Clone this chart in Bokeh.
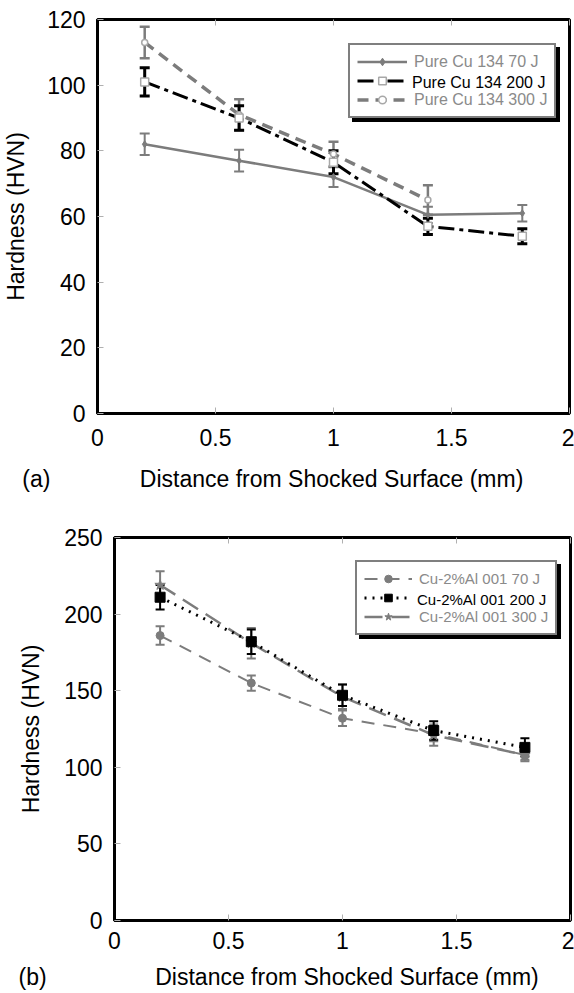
from bokeh.plotting import figure
from bokeh.models import (ColumnDataSource, Whisker, TeeHead, Legend, LegendItem,
                          FixedTicker, CustomJSTickFormatter, LinearAxis, Range1d)
from bokeh.embed import file_html
from bokeh.resources import INLINE

# ---------------- data ----------------
dist = [0.2, 0.6, 1.0, 1.4, 1.8]
dist_cu300 = [0.2, 0.6, 1.0, 1.4]

cu_70 = [82, 77, 72, 60.5, 61]
cu_70_err = [3.3, 3.3, 3.0, 2.5, 2.5]
cu_200 = [101, 90, 76.5, 57, 54]
cu_200_err = [4.3, 3.7, 3.5, 2.5, 2.3]
cu_300 = [113, 91, 79, 65]
cu_300_err = [4.8, 4.7, 3.8, 4.5]

al_70 = [186, 155, 132, 122, 108]
al_70_err = [6, 5, 5, 5, 3]
al_200 = [211, 182, 147, 124, 113]
al_200_err = [8, 8, 7, 6, 6]
al_300 = [219, 181, 146, 121, 108]
al_300_err = [9, 10, 8, 7, 4]

x_ticks = [0, 0.5, 1, 1.5, 2]
y_ticks_a = [0, 20, 40, 60, 80, 100, 120]
y_ticks_b = [0, 50, 100, 150, 200, 250]

labels_a = ["Pure Cu 134 70 J", "Pure Cu 134 200 J", "Pure Cu 134 300 J"]
labels_b = ["Cu-2%Al 001 70 J", "Cu-2%Al 001 200 J", "Cu-2%Al 001 300 J"]

X_TITLE = "Distance from Shocked Surface (mm)"
Y_TITLE = "Hardness (HVN)"
NB = "\u00a0"

FONT = "Liberation Sans"
GRAY = "#7c7c7c"
LIGHT = "#a8a8a8"
TEXT_GRAY = "#8a8a8a"


def make_fig(ymax, yticks, fw, fh, bl, bt, bb, br, xs, xls, yls, xlabel):
    p = figure(width=bl + fw + br, height=bt + fh + bb,
               min_border_left=bl, min_border_top=bt, min_border_bottom=bb,
               min_border_right=br,
               x_range=Range1d(0, 2), y_range=Range1d(0, ymax),
               output_backend="svg", toolbar_location=None)
    p.grid.visible = False
    p.outline_line_color = "black"
    p.outline_line_width = 3
    p.background_fill_color = "white"
    p.border_fill_color = "white"
    xa, ya = p.below[0], p.left[0]
    xa.ticker = FixedTicker(ticks=x_ticks)
    ya.ticker = FixedTicker(ticks=yticks)
    xa.formatter = CustomJSTickFormatter(code="return String(tick)")
    for ax in (xa, ya):
        ax.axis_line_color = "black"
        ax.axis_line_width = 3
        ax.major_tick_in = 6
        ax.major_tick_out = 0
        ax.major_tick_line_color = "#b0b0b0"
        ax.major_tick_line_width = 1
        ax.minor_tick_line_color = None
        ax.major_label_text_font = FONT
        ax.major_label_text_font_size = "23px"
        ax.major_label_text_color = "black"
        ax.axis_label_text_font = FONT
        ax.axis_label_text_font_size = "23px"
        ax.axis_label_text_font_style = "normal"
        ax.axis_label_text_color = "black"
    xa.major_label_standoff = xs
    ya.major_label_standoff = 12
    xa.axis_label_standoff = xls
    ya.axis_label_standoff = yls
    xa.axis_label = xlabel
    ya.axis_label = Y_TITLE
    top = LinearAxis(ticker=FixedTicker(ticks=x_ticks),
                     formatter=CustomJSTickFormatter(code="return ''"),
                     major_label_text_font_size="8px",
                     axis_line_color=None, major_tick_in=6, major_tick_out=0,
                     major_tick_line_color="#b0b0b0", minor_tick_line_color=None,
                     major_label_standoff=0)
    p.add_layout(top, "above")
    return p


def err_bars(p, xs, ys, es, color, width, head):
    src = ColumnDataSource(dict(x=xs, lo=[y - e for y, e in zip(ys, es)],
                                hi=[y + e for y, e in zip(ys, es)]))
    w = Whisker(base="x", lower="lo", upper="hi", source=src, dimension="height",
                line_color=color, line_width=width,
                upper_head=TeeHead(size=head, line_color=color, line_width=width),
                lower_head=TeeHead(size=head, line_color=color, line_width=width))
    p.add_layout(w)


def add_legend(p, items, loc, font, glyph_w, label_w):
    """Three legends of identical structure: shadow, grey-labelled box, black middle label."""
    common = dict(label_text_font=FONT, label_text_font_size=font,
                  label_height=19, glyph_height=19, glyph_width=glyph_w,
                  label_standoff=7, label_width=label_w, spacing=0, margin=0,
                  padding=7, border_line_width=2)
    x0, y0 = loc
    (l1, r1), (l2, r2), (l3, r3) = items
    # invisible stand-in renderer (no data) for legend rows that must not draw a glyph
    blank = [p.line(x="x", y="y", source=ColumnDataSource(dict(x=[], y=[])),
                    line_alpha=0)]
    # shadow
    p.add_layout(Legend(items=[LegendItem(label=" ", renderers=blank) for _ in items],
                        location=(x0 + 4, y0 - 4),
                        border_line_color="black", background_fill_color="black",
                        background_fill_alpha=1, label_text_color="black", **common),
                 "center")
    # main box, grey labels (middle label drawn by the overlay)
    p.add_layout(Legend(items=[LegendItem(label=l1, renderers=r1),
                               LegendItem(label=" ", renderers=r2),
                               LegendItem(label=l3, renderers=r3)],
                        location=(x0, y0),
                        border_line_color="black",
                        background_fill_color="white", background_fill_alpha=1,
                        label_text_color=TEXT_GRAY, **common), "center")
    # overlay with the same structure: only the middle label, in black
    p.add_layout(Legend(items=[LegendItem(label=" ", renderers=blank),
                               LegendItem(label=l2, renderers=blank),
                               LegendItem(label=" ", renderers=blank)],
                        location=(x0, y0),
                        border_line_color="black", border_line_alpha=0,
                        background_fill_alpha=0,
                        label_text_color="black", **common), "center")


# ---------------- (a) Pure Cu ----------------
xlabel_a = "(a)" + NB * 14 + X_TITLE + NB * 19
pa = make_fig(120, y_ticks_a, 475, 394, bl=94, bt=19, bb=86, br=5,
              xs=15, xls=17, yls=15, xlabel=xlabel_a)

err_bars(pa, dist, cu_70, cu_70_err, GRAY, 2, 10)
err_bars(pa, dist_cu300, cu_300, cu_300_err, GRAY, 2.5, 10)
err_bars(pa, dist, cu_200, cu_200_err, "black", 3, 10)

l70 = pa.line(dist, cu_70, line_color=GRAY, line_width=2.5)
m70 = pa.scatter(dist, cu_70, marker="diamond", size=7, color=GRAY)
l300 = pa.line(dist_cu300, cu_300, line_color=GRAY, line_width=3.5, line_dash="11 7")
m300 = pa.scatter(dist_cu300, cu_300, marker="circle", size=6, fill_color="white",
                  line_color=LIGHT, line_width=1.5)
l200 = pa.line(dist, cu_200, line_color="black", line_width=3, line_dash="16 5 4 5")
m200 = pa.scatter(dist, cu_200, marker="square", size=8, fill_color="white",
                  line_color=LIGHT, line_width=1.5)

add_legend(pa, [(labels_a[0], [l70, m70]), (labels_a[1], [l200, m200]),
                (labels_a[2], [l300, m300])], (251, 295), "16px", 50, 133)

# ---------------- (b) Cu-2%Al ----------------
xlabel_b = "(b)" + NB * 17 + X_TITLE + NB * 20
pb = make_fig(250, y_ticks_b, 456, 385, bl=114, bt=38, bb=70, br=4,
              xs=11, xls=12, yls=17, xlabel=xlabel_b)

err_bars(pb, dist, al_70, al_70_err, GRAY, 2, 9)
err_bars(pb, dist, al_300, al_300_err, GRAY, 2, 9)
err_bars(pb, dist, al_200, al_200_err, "black", 2, 9)

b70 = pb.line(dist, al_70, line_color=GRAY, line_width=2, line_dash="13 9")
bm70 = pb.scatter(dist, al_70, marker="circle", size=8, color=GRAY)
b300 = pb.line(dist, al_300, line_color=GRAY, line_width=2.5, line_dash="18 9")
bm300 = pb.scatter(dist, al_300, marker="star", size=11, color=GRAY)
b200 = pb.line(dist, al_200, line_color="black", line_width=3, line_dash="2 6")
bm200 = pb.scatter(dist, al_200, marker="square", size=10, color="black")

add_legend(pb, [(labels_b[0], [b70, bm70]), (labels_b[1], [b200, bm200]),
                (labels_b[2], [b300, bm300])], (241, 285), "15px", 48, 129)

open("out.html", "w").write(file_html([pa, pb], INLINE))
